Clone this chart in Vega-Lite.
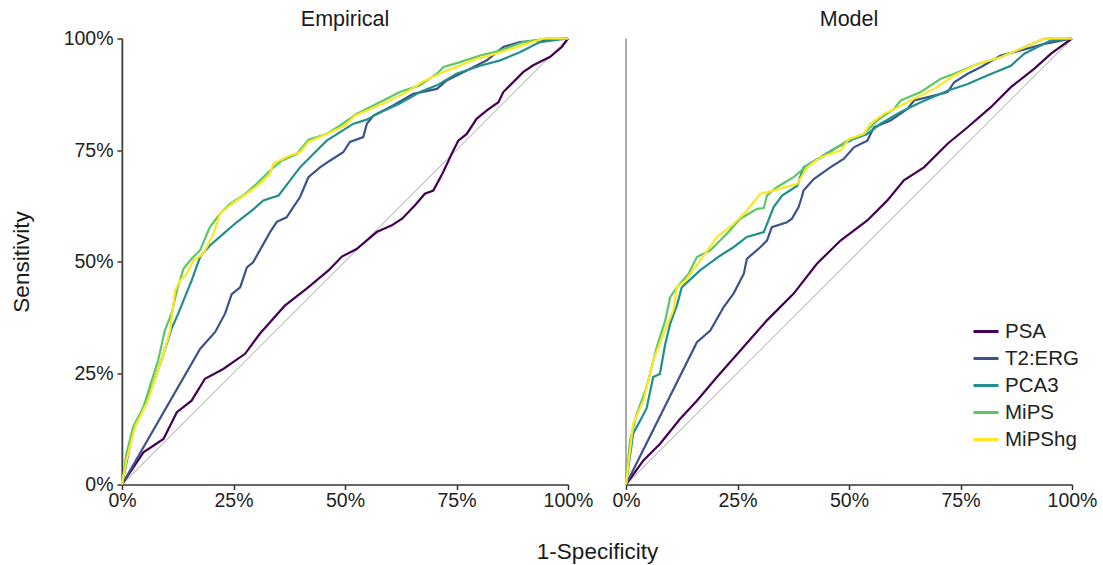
{
"$schema": "https://vega.github.io/schema/vega-lite/v6.json",
"padding": {"left": 10, "top": 8.5, "right": 20, "bottom": 5},
"bounds": "flush",
"spacing": 58,
"title": {"text": "1-Specificity", "orient": "bottom", "anchor": "middle", "frame": "group", "dx": 475.5, "fontSize": 22.5, "fontWeight": "normal", "color": "#1a1a1a", "offset": 31},
"config": {"font": "Liberation Sans", "view": {"stroke": null}},
"data": {"values": [
{"p":"Empirical","s":"PSA","x":0,"y":0},{"p":"Empirical","s":"PSA","x":0.048,"y":0.072},{"p":"Empirical","s":"PSA","x":0.093,"y":0.102},{"p":"Empirical","s":"PSA","x":0.123,"y":0.162},{"p":"Empirical","s":"PSA","x":0.156,"y":0.188},{"p":"Empirical","s":"PSA","x":0.186,"y":0.237},{"p":"Empirical","s":"PSA","x":0.227,"y":0.259},{"p":"Empirical","s":"PSA","x":0.276,"y":0.293},{"p":"Empirical","s":"PSA","x":0.309,"y":0.338},{"p":"Empirical","s":"PSA","x":0.365,"y":0.401},{"p":"Empirical","s":"PSA","x":0.414,"y":0.439},{"p":"Empirical","s":"PSA","x":0.463,"y":0.48},{"p":"Empirical","s":"PSA","x":0.493,"y":0.511},{"p":"Empirical","s":"PSA","x":0.526,"y":0.528},{"p":"Empirical","s":"PSA","x":0.571,"y":0.566},{"p":"Empirical","s":"PSA","x":0.605,"y":0.581},{"p":"Empirical","s":"PSA","x":0.628,"y":0.596},{"p":"Empirical","s":"PSA","x":0.657,"y":0.626},{"p":"Empirical","s":"PSA","x":0.679,"y":0.652},{"p":"Empirical","s":"PSA","x":0.698,"y":0.659},{"p":"Empirical","s":"PSA","x":0.72,"y":0.7},{"p":"Empirical","s":"PSA","x":0.739,"y":0.741},{"p":"Empirical","s":"PSA","x":0.754,"y":0.771},{"p":"Empirical","s":"PSA","x":0.773,"y":0.786},{"p":"Empirical","s":"PSA","x":0.795,"y":0.82},{"p":"Empirical","s":"PSA","x":0.818,"y":0.839},{"p":"Empirical","s":"PSA","x":0.844,"y":0.857},{"p":"Empirical","s":"PSA","x":0.855,"y":0.88},{"p":"Empirical","s":"PSA","x":0.885,"y":0.91},{"p":"Empirical","s":"PSA","x":0.9,"y":0.925},{"p":"Empirical","s":"PSA","x":0.922,"y":0.94},{"p":"Empirical","s":"PSA","x":0.96,"y":0.959},{"p":"Empirical","s":"PSA","x":0.986,"y":0.981},{"p":"Empirical","s":"PSA","x":1,"y":1},
{"p":"Empirical","s":"T2:ERG","x":0,"y":0},{"p":"Empirical","s":"T2:ERG","x":0.175,"y":0.304},{"p":"Empirical","s":"T2:ERG","x":0.209,"y":0.342},{"p":"Empirical","s":"T2:ERG","x":0.231,"y":0.383},{"p":"Empirical","s":"T2:ERG","x":0.246,"y":0.427},{"p":"Empirical","s":"T2:ERG","x":0.265,"y":0.442},{"p":"Empirical","s":"T2:ERG","x":0.28,"y":0.487},{"p":"Empirical","s":"T2:ERG","x":0.294,"y":0.498},{"p":"Empirical","s":"T2:ERG","x":0.309,"y":0.525},{"p":"Empirical","s":"T2:ERG","x":0.332,"y":0.566},{"p":"Empirical","s":"T2:ERG","x":0.347,"y":0.589},{"p":"Empirical","s":"T2:ERG","x":0.369,"y":0.599},{"p":"Empirical","s":"T2:ERG","x":0.384,"y":0.622},{"p":"Empirical","s":"T2:ERG","x":0.399,"y":0.644},{"p":"Empirical","s":"T2:ERG","x":0.418,"y":0.689},{"p":"Empirical","s":"T2:ERG","x":0.444,"y":0.711},{"p":"Empirical","s":"T2:ERG","x":0.466,"y":0.726},{"p":"Empirical","s":"T2:ERG","x":0.496,"y":0.745},{"p":"Empirical","s":"T2:ERG","x":0.511,"y":0.768},{"p":"Empirical","s":"T2:ERG","x":0.541,"y":0.779},{"p":"Empirical","s":"T2:ERG","x":0.549,"y":0.809},{"p":"Empirical","s":"T2:ERG","x":0.564,"y":0.827},{"p":"Empirical","s":"T2:ERG","x":0.608,"y":0.85},{"p":"Empirical","s":"T2:ERG","x":0.653,"y":0.876},{"p":"Empirical","s":"T2:ERG","x":0.706,"y":0.887},{"p":"Empirical","s":"T2:ERG","x":0.728,"y":0.906},{"p":"Empirical","s":"T2:ERG","x":0.773,"y":0.928},{"p":"Empirical","s":"T2:ERG","x":0.818,"y":0.951},{"p":"Empirical","s":"T2:ERG","x":0.855,"y":0.981},{"p":"Empirical","s":"T2:ERG","x":0.892,"y":0.992},{"p":"Empirical","s":"T2:ERG","x":0.945,"y":0.997},{"p":"Empirical","s":"T2:ERG","x":1,"y":1},
{"p":"Empirical","s":"PCA3","x":0,"y":0},{"p":"Empirical","s":"PCA3","x":0.025,"y":0.121},{"p":"Empirical","s":"PCA3","x":0.048,"y":0.173},{"p":"Empirical","s":"PCA3","x":0.07,"y":0.226},{"p":"Empirical","s":"PCA3","x":0.093,"y":0.293},{"p":"Empirical","s":"PCA3","x":0.111,"y":0.349},{"p":"Empirical","s":"PCA3","x":0.126,"y":0.383},{"p":"Empirical","s":"PCA3","x":0.138,"y":0.413},{"p":"Empirical","s":"PCA3","x":0.156,"y":0.457},{"p":"Empirical","s":"PCA3","x":0.175,"y":0.51},{"p":"Empirical","s":"PCA3","x":0.197,"y":0.536},{"p":"Empirical","s":"PCA3","x":0.227,"y":0.562},{"p":"Empirical","s":"PCA3","x":0.257,"y":0.588},{"p":"Empirical","s":"PCA3","x":0.291,"y":0.614},{"p":"Empirical","s":"PCA3","x":0.317,"y":0.637},{"p":"Empirical","s":"PCA3","x":0.351,"y":0.648},{"p":"Empirical","s":"PCA3","x":0.377,"y":0.682},{"p":"Empirical","s":"PCA3","x":0.399,"y":0.711},{"p":"Empirical","s":"PCA3","x":0.429,"y":0.741},{"p":"Empirical","s":"PCA3","x":0.459,"y":0.771},{"p":"Empirical","s":"PCA3","x":0.489,"y":0.79},{"p":"Empirical","s":"PCA3","x":0.519,"y":0.809},{"p":"Empirical","s":"PCA3","x":0.549,"y":0.818},{"p":"Empirical","s":"PCA3","x":0.571,"y":0.831},{"p":"Empirical","s":"PCA3","x":0.623,"y":0.854},{"p":"Empirical","s":"PCA3","x":0.668,"y":0.88},{"p":"Empirical","s":"PCA3","x":0.706,"y":0.895},{"p":"Empirical","s":"PCA3","x":0.75,"y":0.921},{"p":"Empirical","s":"PCA3","x":0.803,"y":0.939},{"p":"Empirical","s":"PCA3","x":0.848,"y":0.951},{"p":"Empirical","s":"PCA3","x":0.892,"y":0.969},{"p":"Empirical","s":"PCA3","x":0.937,"y":0.992},{"p":"Empirical","s":"PCA3","x":1,"y":1},
{"p":"Empirical","s":"MiPS","x":0,"y":0},{"p":"Empirical","s":"MiPS","x":0.01,"y":0.069},{"p":"Empirical","s":"MiPS","x":0.025,"y":0.129},{"p":"Empirical","s":"MiPS","x":0.048,"y":0.173},{"p":"Empirical","s":"MiPS","x":0.063,"y":0.222},{"p":"Empirical","s":"MiPS","x":0.081,"y":0.278},{"p":"Empirical","s":"MiPS","x":0.096,"y":0.345},{"p":"Empirical","s":"MiPS","x":0.111,"y":0.383},{"p":"Empirical","s":"MiPS","x":0.123,"y":0.435},{"p":"Empirical","s":"MiPS","x":0.138,"y":0.484},{"p":"Empirical","s":"MiPS","x":0.156,"y":0.506},{"p":"Empirical","s":"MiPS","x":0.175,"y":0.525},{"p":"Empirical","s":"MiPS","x":0.197,"y":0.577},{"p":"Empirical","s":"MiPS","x":0.22,"y":0.607},{"p":"Empirical","s":"MiPS","x":0.242,"y":0.629},{"p":"Empirical","s":"MiPS","x":0.272,"y":0.648},{"p":"Empirical","s":"MiPS","x":0.302,"y":0.674},{"p":"Empirical","s":"MiPS","x":0.332,"y":0.704},{"p":"Empirical","s":"MiPS","x":0.358,"y":0.726},{"p":"Empirical","s":"MiPS","x":0.392,"y":0.741},{"p":"Empirical","s":"MiPS","x":0.418,"y":0.773},{"p":"Empirical","s":"MiPS","x":0.459,"y":0.786},{"p":"Empirical","s":"MiPS","x":0.489,"y":0.805},{"p":"Empirical","s":"MiPS","x":0.526,"y":0.831},{"p":"Empirical","s":"MiPS","x":0.578,"y":0.857},{"p":"Empirical","s":"MiPS","x":0.623,"y":0.88},{"p":"Empirical","s":"MiPS","x":0.668,"y":0.895},{"p":"Empirical","s":"MiPS","x":0.706,"y":0.921},{"p":"Empirical","s":"MiPS","x":0.721,"y":0.936},{"p":"Empirical","s":"MiPS","x":0.758,"y":0.947},{"p":"Empirical","s":"MiPS","x":0.803,"y":0.962},{"p":"Empirical","s":"MiPS","x":0.848,"y":0.973},{"p":"Empirical","s":"MiPS","x":0.9,"y":0.992},{"p":"Empirical","s":"MiPS","x":0.952,"y":1},{"p":"Empirical","s":"MiPS","x":1,"y":1},
{"p":"Empirical","s":"MiPShg","x":0,"y":0},{"p":"Empirical","s":"MiPShg","x":0.01,"y":0.054},{"p":"Empirical","s":"MiPShg","x":0.029,"y":0.129},{"p":"Empirical","s":"MiPShg","x":0.055,"y":0.181},{"p":"Empirical","s":"MiPShg","x":0.074,"y":0.237},{"p":"Empirical","s":"MiPShg","x":0.093,"y":0.293},{"p":"Empirical","s":"MiPShg","x":0.108,"y":0.345},{"p":"Empirical","s":"MiPShg","x":0.119,"y":0.435},{"p":"Empirical","s":"MiPShg","x":0.13,"y":0.457},{"p":"Empirical","s":"MiPShg","x":0.145,"y":0.472},{"p":"Empirical","s":"MiPShg","x":0.16,"y":0.502},{"p":"Empirical","s":"MiPShg","x":0.182,"y":0.517},{"p":"Empirical","s":"MiPShg","x":0.205,"y":0.562},{"p":"Empirical","s":"MiPShg","x":0.22,"y":0.607},{"p":"Empirical","s":"MiPShg","x":0.246,"y":0.629},{"p":"Empirical","s":"MiPShg","x":0.28,"y":0.652},{"p":"Empirical","s":"MiPShg","x":0.309,"y":0.674},{"p":"Empirical","s":"MiPShg","x":0.332,"y":0.697},{"p":"Empirical","s":"MiPShg","x":0.339,"y":0.719},{"p":"Empirical","s":"MiPShg","x":0.377,"y":0.738},{"p":"Empirical","s":"MiPShg","x":0.399,"y":0.745},{"p":"Empirical","s":"MiPShg","x":0.418,"y":0.768},{"p":"Empirical","s":"MiPShg","x":0.459,"y":0.786},{"p":"Empirical","s":"MiPShg","x":0.5,"y":0.805},{"p":"Empirical","s":"MiPShg","x":0.522,"y":0.827},{"p":"Empirical","s":"MiPShg","x":0.586,"y":0.854},{"p":"Empirical","s":"MiPShg","x":0.639,"y":0.88},{"p":"Empirical","s":"MiPShg","x":0.672,"y":0.902},{"p":"Empirical","s":"MiPShg","x":0.728,"y":0.928},{"p":"Empirical","s":"MiPShg","x":0.795,"y":0.954},{"p":"Empirical","s":"MiPShg","x":0.848,"y":0.969},{"p":"Empirical","s":"MiPShg","x":0.907,"y":0.988},{"p":"Empirical","s":"MiPShg","x":0.945,"y":1},{"p":"Empirical","s":"MiPShg","x":1,"y":1},
{"p":"Model","s":"PSA","x":0,"y":0},{"p":"Model","s":"PSA","x":0.039,"y":0.054},{"p":"Model","s":"PSA","x":0.076,"y":0.091},{"p":"Model","s":"PSA","x":0.121,"y":0.147},{"p":"Model","s":"PSA","x":0.159,"y":0.188},{"p":"Model","s":"PSA","x":0.204,"y":0.241},{"p":"Model","s":"PSA","x":0.256,"y":0.3},{"p":"Model","s":"PSA","x":0.316,"y":0.368},{"p":"Model","s":"PSA","x":0.376,"y":0.428},{"p":"Model","s":"PSA","x":0.428,"y":0.495},{"p":"Model","s":"PSA","x":0.481,"y":0.547},{"p":"Model","s":"PSA","x":0.541,"y":0.592},{"p":"Model","s":"PSA","x":0.586,"y":0.637},{"p":"Model","s":"PSA","x":0.623,"y":0.682},{"p":"Model","s":"PSA","x":0.668,"y":0.711},{"p":"Model","s":"PSA","x":0.721,"y":0.764},{"p":"Model","s":"PSA","x":0.766,"y":0.801},{"p":"Model","s":"PSA","x":0.818,"y":0.846},{"p":"Model","s":"PSA","x":0.863,"y":0.891},{"p":"Model","s":"PSA","x":0.915,"y":0.932},{"p":"Model","s":"PSA","x":0.953,"y":0.966},{"p":"Model","s":"PSA","x":1,"y":1},
{"p":"Model","s":"T2:ERG","x":0,"y":0},{"p":"Model","s":"T2:ERG","x":0.159,"y":0.319},{"p":"Model","s":"T2:ERG","x":0.189,"y":0.345},{"p":"Model","s":"T2:ERG","x":0.219,"y":0.398},{"p":"Model","s":"T2:ERG","x":0.241,"y":0.428},{"p":"Model","s":"T2:ERG","x":0.264,"y":0.472},{"p":"Model","s":"T2:ERG","x":0.271,"y":0.506},{"p":"Model","s":"T2:ERG","x":0.301,"y":0.532},{"p":"Model","s":"T2:ERG","x":0.316,"y":0.547},{"p":"Model","s":"T2:ERG","x":0.327,"y":0.577},{"p":"Model","s":"T2:ERG","x":0.361,"y":0.588},{"p":"Model","s":"T2:ERG","x":0.372,"y":0.596},{"p":"Model","s":"T2:ERG","x":0.387,"y":0.622},{"p":"Model","s":"T2:ERG","x":0.394,"y":0.644},{"p":"Model","s":"T2:ERG","x":0.398,"y":0.659},{"p":"Model","s":"T2:ERG","x":0.421,"y":0.685},{"p":"Model","s":"T2:ERG","x":0.458,"y":0.711},{"p":"Model","s":"T2:ERG","x":0.488,"y":0.73},{"p":"Model","s":"T2:ERG","x":0.511,"y":0.756},{"p":"Model","s":"T2:ERG","x":0.541,"y":0.771},{"p":"Model","s":"T2:ERG","x":0.556,"y":0.801},{"p":"Model","s":"T2:ERG","x":0.593,"y":0.816},{"p":"Model","s":"T2:ERG","x":0.631,"y":0.842},{"p":"Model","s":"T2:ERG","x":0.646,"y":0.861},{"p":"Model","s":"T2:ERG","x":0.691,"y":0.872},{"p":"Model","s":"T2:ERG","x":0.721,"y":0.88},{"p":"Model","s":"T2:ERG","x":0.736,"y":0.902},{"p":"Model","s":"T2:ERG","x":0.766,"y":0.921},{"p":"Model","s":"T2:ERG","x":0.796,"y":0.936},{"p":"Model","s":"T2:ERG","x":0.84,"y":0.962},{"p":"Model","s":"T2:ERG","x":0.885,"y":0.973},{"p":"Model","s":"T2:ERG","x":0.938,"y":0.988},{"p":"Model","s":"T2:ERG","x":1,"y":1},
{"p":"Model","s":"PCA3","x":0,"y":0},{"p":"Model","s":"PCA3","x":0.016,"y":0.114},{"p":"Model","s":"PCA3","x":0.046,"y":0.17},{"p":"Model","s":"PCA3","x":0.061,"y":0.241},{"p":"Model","s":"PCA3","x":0.076,"y":0.248},{"p":"Model","s":"PCA3","x":0.088,"y":0.315},{"p":"Model","s":"PCA3","x":0.099,"y":0.36},{"p":"Model","s":"PCA3","x":0.114,"y":0.401},{"p":"Model","s":"PCA3","x":0.125,"y":0.442},{"p":"Model","s":"PCA3","x":0.166,"y":0.48},{"p":"Model","s":"PCA3","x":0.211,"y":0.513},{"p":"Model","s":"PCA3","x":0.241,"y":0.532},{"p":"Model","s":"PCA3","x":0.271,"y":0.555},{"p":"Model","s":"PCA3","x":0.309,"y":0.566},{"p":"Model","s":"PCA3","x":0.316,"y":0.584},{"p":"Model","s":"PCA3","x":0.331,"y":0.622},{"p":"Model","s":"PCA3","x":0.35,"y":0.648},{"p":"Model","s":"PCA3","x":0.384,"y":0.67},{"p":"Model","s":"PCA3","x":0.398,"y":0.711},{"p":"Model","s":"PCA3","x":0.436,"y":0.734},{"p":"Model","s":"PCA3","x":0.473,"y":0.756},{"p":"Model","s":"PCA3","x":0.511,"y":0.775},{"p":"Model","s":"PCA3","x":0.541,"y":0.786},{"p":"Model","s":"PCA3","x":0.571,"y":0.809},{"p":"Model","s":"PCA3","x":0.616,"y":0.835},{"p":"Model","s":"PCA3","x":0.661,"y":0.857},{"p":"Model","s":"PCA3","x":0.721,"y":0.883},{"p":"Model","s":"PCA3","x":0.766,"y":0.898},{"p":"Model","s":"PCA3","x":0.81,"y":0.917},{"p":"Model","s":"PCA3","x":0.863,"y":0.939},{"p":"Model","s":"PCA3","x":0.893,"y":0.966},{"p":"Model","s":"PCA3","x":0.923,"y":0.981},{"p":"Model","s":"PCA3","x":0.953,"y":0.996},{"p":"Model","s":"PCA3","x":1,"y":1},
{"p":"Model","s":"MiPS","x":0,"y":0},{"p":"Model","s":"MiPS","x":0.009,"y":0.099},{"p":"Model","s":"MiPS","x":0.024,"y":0.158},{"p":"Model","s":"MiPS","x":0.046,"y":0.218},{"p":"Model","s":"MiPS","x":0.069,"y":0.308},{"p":"Model","s":"MiPS","x":0.088,"y":0.368},{"p":"Model","s":"MiPS","x":0.099,"y":0.42},{"p":"Model","s":"MiPS","x":0.114,"y":0.442},{"p":"Model","s":"MiPS","x":0.14,"y":0.472},{"p":"Model","s":"MiPS","x":0.159,"y":0.51},{"p":"Model","s":"MiPS","x":0.189,"y":0.525},{"p":"Model","s":"MiPS","x":0.226,"y":0.562},{"p":"Model","s":"MiPS","x":0.256,"y":0.596},{"p":"Model","s":"MiPS","x":0.294,"y":0.618},{"p":"Model","s":"MiPS","x":0.309,"y":0.62},{"p":"Model","s":"MiPS","x":0.316,"y":0.648},{"p":"Model","s":"MiPS","x":0.339,"y":0.667},{"p":"Model","s":"MiPS","x":0.376,"y":0.689},{"p":"Model","s":"MiPS","x":0.406,"y":0.715},{"p":"Model","s":"MiPS","x":0.451,"y":0.741},{"p":"Model","s":"MiPS","x":0.496,"y":0.771},{"p":"Model","s":"MiPS","x":0.533,"y":0.786},{"p":"Model","s":"MiPS","x":0.563,"y":0.816},{"p":"Model","s":"MiPS","x":0.601,"y":0.842},{"p":"Model","s":"MiPS","x":0.616,"y":0.861},{"p":"Model","s":"MiPS","x":0.661,"y":0.88},{"p":"Model","s":"MiPS","x":0.706,"y":0.91},{"p":"Model","s":"MiPS","x":0.736,"y":0.921},{"p":"Model","s":"MiPS","x":0.788,"y":0.943},{"p":"Model","s":"MiPS","x":0.84,"y":0.958},{"p":"Model","s":"MiPS","x":0.885,"y":0.977},{"p":"Model","s":"MiPS","x":0.938,"y":1},{"p":"Model","s":"MiPS","x":1,"y":1},
{"p":"Model","s":"MiPShg","x":0,"y":0},{"p":"Model","s":"MiPShg","x":0.016,"y":0.136},{"p":"Model","s":"MiPShg","x":0.039,"y":0.188},{"p":"Model","s":"MiPShg","x":0.061,"y":0.278},{"p":"Model","s":"MiPShg","x":0.084,"y":0.338},{"p":"Model","s":"MiPShg","x":0.106,"y":0.39},{"p":"Model","s":"MiPShg","x":0.114,"y":0.442},{"p":"Model","s":"MiPShg","x":0.133,"y":0.457},{"p":"Model","s":"MiPShg","x":0.166,"y":0.502},{"p":"Model","s":"MiPShg","x":0.204,"y":0.555},{"p":"Model","s":"MiPShg","x":0.241,"y":0.584},{"p":"Model","s":"MiPShg","x":0.271,"y":0.614},{"p":"Model","s":"MiPShg","x":0.301,"y":0.652},{"p":"Model","s":"MiPShg","x":0.331,"y":0.659},{"p":"Model","s":"MiPShg","x":0.384,"y":0.674},{"p":"Model","s":"MiPShg","x":0.406,"y":0.711},{"p":"Model","s":"MiPShg","x":0.436,"y":0.734},{"p":"Model","s":"MiPShg","x":0.481,"y":0.749},{"p":"Model","s":"MiPShg","x":0.5,"y":0.775},{"p":"Model","s":"MiPShg","x":0.533,"y":0.786},{"p":"Model","s":"MiPShg","x":0.548,"y":0.809},{"p":"Model","s":"MiPShg","x":0.578,"y":0.831},{"p":"Model","s":"MiPShg","x":0.608,"y":0.845},{"p":"Model","s":"MiPShg","x":0.646,"y":0.865},{"p":"Model","s":"MiPShg","x":0.691,"y":0.887},{"p":"Model","s":"MiPShg","x":0.736,"y":0.917},{"p":"Model","s":"MiPShg","x":0.788,"y":0.943},{"p":"Model","s":"MiPShg","x":0.84,"y":0.958},{"p":"Model","s":"MiPShg","x":0.885,"y":0.977},{"p":"Model","s":"MiPShg","x":0.938,"y":1},{"p":"Model","s":"MiPShg","x":1,"y":1}
]},
"facet": {"column": {"field": "p", "type": "nominal", "sort": ["Empirical", "Model"], "header": {"title": null, "labelFontSize": 21.5, "labelColor": "#1a1a1a", "labelPadding": 8}}},
"spec": {
  "width": 446,
  "height": 446,
  "layer": [
    {
      "transform": [{"filter": "datum.s === 'PSA' && datum.x === 0"}],
      "mark": {"type": "rule", "color": "#c4c4c4", "strokeWidth": 1.2},
      "encoding": {"x": {"datum": 0}, "y": {"datum": 0}, "x2": {"datum": 1}, "y2": {"datum": 1}}
    },
    {
      "transform": [{"filter": "datum.s === 'PSA' && datum.x === 0"}],
      "mark": {"type": "rule", "color": "#555555", "strokeWidth": 1},
      "encoding": {"x": {"datum": 0}, "y": {"datum": 0}, "y2": {"datum": 1}}
    },
    {
      "mark": {"type": "line", "strokeWidth": 2.2},
      "encoding": {
        "x": {"field": "x", "type": "quantitative", "scale": {"domain": [0, 1], "nice": false},
              "axis": {"title": null, "format": ".0%", "values": [0, 0.25, 0.5, 0.75, 1], "grid": false, "domainColor": "#333333", "domainWidth": 1.5, "tickColor": "#333333", "tickWidth": 1.5, "tickSize": 5, "labelFontSize": 19.5, "labelColor": "#222222", "labelPadding": 2, "labelFlush": false, "labelOverlap": false}},
        "y": {"field": "y", "type": "quantitative", "scale": {"domain": [0, 1], "nice": false},
              "axis": {"title": "Sensitivity", "titleFontSize": 22.5, "titleFontWeight": "normal", "titleColor": "#1a1a1a", "titlePadding": 30, "format": ".0%", "values": [0, 0.25, 0.5, 0.75, 1], "grid": false, "domainColor": "#333333", "domainWidth": 1.5, "tickColor": "#333333", "tickWidth": 1.5, "tickSize": 5, "labelFontSize": 19.5, "labelColor": "#222222", "labelPadding": 4, "labelFlush": false, "labelOverlap": false}},
        "color": {"field": "s", "type": "nominal",
                  "scale": {"domain": ["PSA", "T2:ERG", "PCA3", "MiPS", "MiPShg"], "range": ["#440154", "#3b528b", "#21908c", "#5dc863", "#fde725"]},
                  "legend": {"title": null, "orient": "none", "legendX": 850, "legendY": 279, "symbolType": "stroke", "symbolSize": 625, "symbolStrokeWidth": 3, "labelFontSize": 20.5, "labelColor": "#222222", "rowPadding": 2, "labelOffset": 5}}
      }
    }
  ]
}
}
